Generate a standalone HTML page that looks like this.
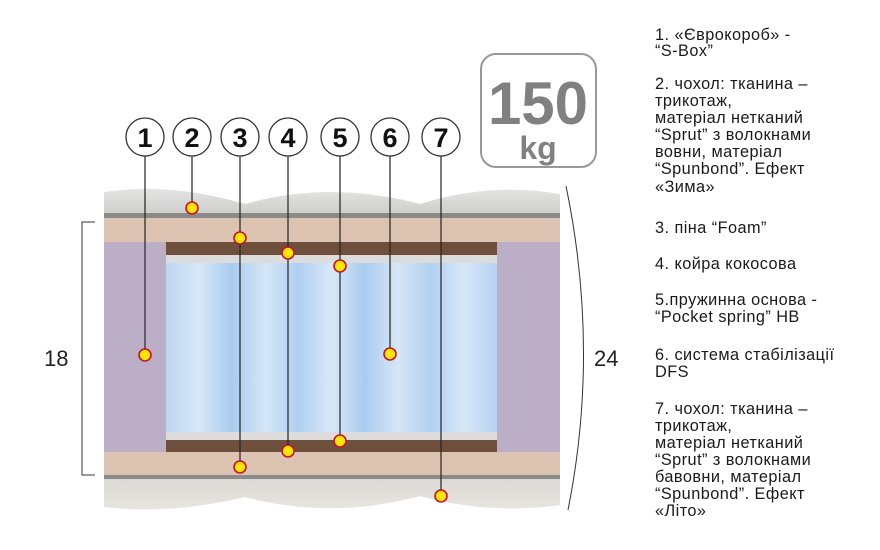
<!DOCTYPE html>
<html><head><meta charset="utf-8"><style>
html,body{margin:0;padding:0;background:#fff}
svg{display:block}
.t{font-family:"Liberation Sans",sans-serif;font-size:16.3px;letter-spacing:0.45px;fill:#1a1a1a}
.n{font-family:"Liberation Sans",sans-serif;font-size:27px;font-weight:bold;fill:#111;text-anchor:middle}
</style></head><body>
<svg width="880" height="550" viewBox="0 0 880 550" xmlns="http://www.w3.org/2000/svg">
<defs>
<linearGradient id="q" x1="0" y1="0" x2="0" y2="1"><stop offset="0" stop-color="#e4e4e2"/><stop offset="1" stop-color="#c9c9c6"/></linearGradient>
<linearGradient id="qb" x1="0" y1="0" x2="0" y2="1"><stop offset="0" stop-color="#dcd8d4"/><stop offset="1" stop-color="#e8e4e0"/></linearGradient>
<linearGradient id="bl" x1="0" y1="0" x2="1" y2="0">
<stop offset="0" stop-color="#bcd7f2"/><stop offset="0.1" stop-color="#d8e8f8"/><stop offset="0.2" stop-color="#a9ccef"/><stop offset="0.3" stop-color="#d5e6f7"/><stop offset="0.4" stop-color="#b0d0f0"/><stop offset="0.5" stop-color="#d8e8f8"/><stop offset="0.6" stop-color="#a9ccef"/><stop offset="0.7" stop-color="#d5e6f7"/><stop offset="0.8" stop-color="#b0d0f0"/><stop offset="0.9" stop-color="#d8e8f8"/><stop offset="1" stop-color="#b5d3f1"/></linearGradient>
</defs>
<path d="M104 192 Q170 182 245 204 Q330 180 420 204 Q490 182 560 194 L560 218 L104 218 Z" fill="url(#q)"/>
<path d="M104 213 L560 213 L560 218 L104 218Z" fill="#8a8a88"/>
<rect x="104" y="218" width="456" height="24" fill="#dcc3b2"/>
<rect x="104" y="242" width="62" height="210" fill="#bdaec7"/>
<rect x="497" y="242" width="63" height="210" fill="#bdaec7"/>
<rect x="166" y="242" width="331" height="13" fill="#6e4f3c"/>
<rect x="166" y="255" width="331" height="8" fill="#dcdcdc"/>
<rect x="166" y="263" width="331" height="169" fill="url(#bl)"/>
<rect x="166" y="432" width="331" height="8" fill="#dcdcdc"/>
<rect x="166" y="440" width="331" height="12" fill="#6e4f3c"/>
<rect x="104" y="452" width="456" height="23" fill="#dcc3b2"/>
<rect x="104" y="475" width="456" height="4" fill="#8a8a88"/>
<path d="M104 479 L560 479 L560 505 Q490 515 420 496 Q330 520 245 497 Q170 515 104 507 Z" fill="url(#qb)"/>
<path d="M95 222 L82 222 L82 475 L95 475" fill="none" stroke="#333" stroke-width="1"/>
<text x="44" y="366" font-family="Liberation Sans,sans-serif" font-size="22" fill="#222">18</text>
<path d="M566 186 Q600 350 568 510" fill="none" stroke="#333" stroke-width="1"/>
<text x="594" y="366" font-family="Liberation Sans,sans-serif" font-size="22" fill="#222">24</text>
<rect x="481" y="54" width="115" height="113" rx="15" fill="#fff" stroke="#999" stroke-width="2"/>
<text x="538" y="124" text-anchor="middle" font-family="Liberation Sans,sans-serif" font-weight="bold" font-size="60" fill="#808080">150</text>
<text x="538" y="159" text-anchor="middle" font-family="Liberation Sans,sans-serif" font-weight="bold" font-size="32" fill="#808080">kg</text>
<g stroke="#222" stroke-width="1.2">
<line x1="145" y1="156" x2="145" y2="355"/>
<line x1="192" y1="156" x2="192" y2="208"/>
<line x1="240" y1="156" x2="240" y2="467"/>
<line x1="288" y1="156" x2="288" y2="451"/>
<line x1="340" y1="156" x2="340" y2="441"/>
<line x1="390" y1="156" x2="390" y2="354"/>
<line x1="441" y1="156" x2="441" y2="496"/>
</g>
<g fill="#fff" stroke="#333" stroke-width="1.3">
<circle cx="145" cy="137" r="19"/><circle cx="192" cy="137" r="19"/><circle cx="240" cy="137" r="19"/><circle cx="288" cy="137" r="19"/><circle cx="340" cy="137" r="19"/><circle cx="390" cy="137" r="19"/><circle cx="441" cy="137" r="19"/>
</g>
<text class="n" x="145" y="147">1</text><text class="n" x="192" y="147">2</text><text class="n" x="240" y="147">3</text><text class="n" x="288" y="147">4</text><text class="n" x="340" y="147">5</text><text class="n" x="390" y="147">6</text><text class="n" x="441" y="147">7</text>
<g fill="#ffe600" stroke="#c8102e" stroke-width="1.6">
<circle cx="192" cy="208" r="6"/><circle cx="240" cy="238" r="6"/><circle cx="288" cy="253" r="6"/><circle cx="340" cy="266" r="6"/>
<circle cx="145" cy="355" r="6"/><circle cx="390" cy="354" r="6"/>
<circle cx="340" cy="441" r="6"/><circle cx="288" cy="451" r="6"/><circle cx="240" cy="467" r="6"/><circle cx="441" cy="496" r="6"/>
</g>
<g class="t">
<text x="655" y="40">1. «Єврокороб» -</text>
<text x="655" y="56">“S-Box”</text>
<text x="655" y="89">2. чохол: тканина –</text>
<text x="655" y="106">трикотаж,</text>
<text x="655" y="123">матеріал нетканий</text>
<text x="655" y="140">“Sprut” з волокнами</text>
<text x="655" y="157">вовни, матеріал</text>
<text x="655" y="174">“Spunbond”. Ефект</text>
<text x="655" y="192">«Зима»</text>
<text x="655" y="233">3. піна  “Foam”</text>
<text x="655" y="269">4. койра кокосова</text>
<text x="655" y="305">5.пружинна основа -</text>
<text x="655" y="322">“Pocket spring” HB</text>
<text x="655" y="360">6. система стабілізації</text>
<text x="655" y="377">DFS</text>
<text x="655" y="414">7. чохол: тканина –</text>
<text x="655" y="431">трикотаж,</text>
<text x="655" y="448">матеріал нетканий</text>
<text x="655" y="465">“Sprut” з волокнами</text>
<text x="655" y="482">бавовни, матеріал</text>
<text x="655" y="499">“Spunbond”. Ефект</text>
<text x="655" y="516">«Літо»</text>
</g>
</svg>
</body></html>
